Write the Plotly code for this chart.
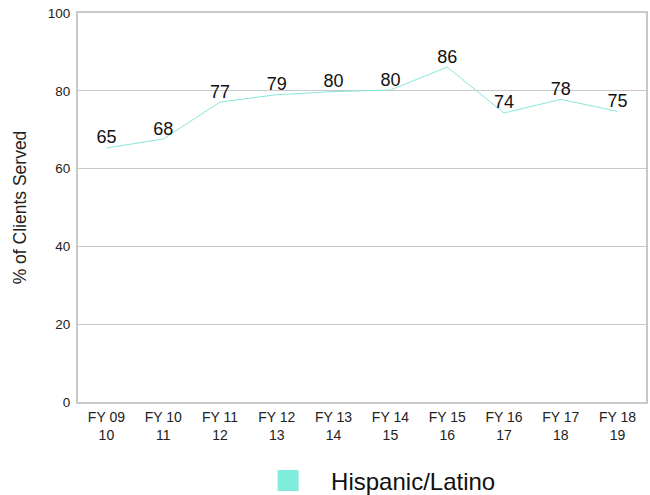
import plotly.graph_objects as go

categories = ["FY 09<br>10", "FY 10<br>11", "FY 11<br>12", "FY 12<br>13", "FY 13<br>14",
              "FY 14<br>15", "FY 15<br>16", "FY 16<br>17", "FY 17<br>18", "FY 18<br>19"]
values = [65.3, 67.6, 77.1, 79.0, 79.8, 80.2, 86.1, 74.3, 77.8, 74.7]
labels = ["65", "68", "77", "79", "80", "80", "86", "74", "78", "75"]
series_name = "Hispanic/Latino"
y_ticks = [0, 20, 40, 60, 80, 100]

line_color = "#86E8D8"
legend_color = "#80ECDC"
font_family = "Liberation Sans, Arial, sans-serif"

fig = go.Figure()
fig.add_trace(go.Scatter(
    x=categories, y=values, mode="lines+text", text=labels,
    textposition="top center", textfont=dict(size=18, color="#111111", family=font_family),
    line=dict(color=line_color, width=1), showlegend=False, cliponaxis=False,
))
fig.add_trace(go.Scatter(
    x=[None], y=[None], mode="markers", name=series_name,
    marker=dict(symbol="square", size=16, color=legend_color,
                line=dict(color=legend_color, width=5)),
))

fig.update_layout(
    width=650, height=495,
    margin=dict(l=78, r=4, t=13, b=93, autoexpand=False),
    plot_bgcolor="white", paper_bgcolor="white",
    font=dict(family=font_family, color="#222222", size=12),
    showlegend=True,
    legend=dict(orientation="h", xref="container", yref="container",
                x=0.574, xanchor="center", y=1 - 481 / 495, yanchor="middle",
                font=dict(size=24, color="#111111"), itemsizing="trace",
                itemwidth=76, bgcolor="rgba(0,0,0,0)"),
)
fig.update_xaxes(showgrid=False, showline=True, linecolor="#C8C8C8", linewidth=1.5,
                 mirror=True, ticks="", tickfont=dict(size=14, color="#222222"),
                 range=[-0.5, 9.5], automargin=False, ticklabelstandoff=1)
fig.update_yaxes(range=[0, 100], tickvals=y_ticks, showgrid=True, gridcolor="#C8C8C8",
                 gridwidth=1, showline=True, linecolor="#C8C8C8", linewidth=2,
                 mirror=True, zeroline=False, ticks="", automargin=False,
                 tickfont=dict(size=13.5, color="#222222"), ticklabelstandoff=3,
                 title=dict(text="% of Clients Served", font=dict(size=17.5, color="#222222"),
                            standoff=17))

fig.write_html("out.html")
